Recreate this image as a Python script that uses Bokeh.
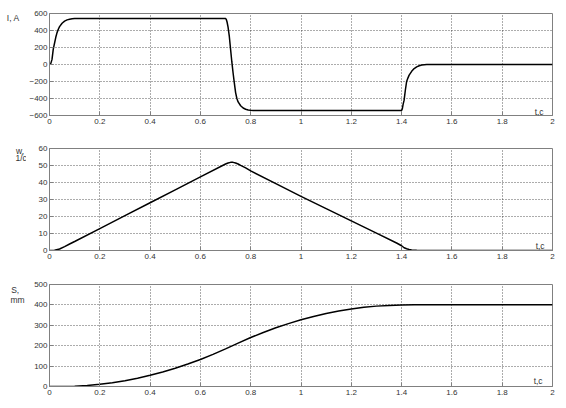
from bokeh.plotting import figure
from bokeh.layouts import column, row
from bokeh.models import Label, FixedTicker, Range1d
from bokeh.embed import file_html
from bokeh.resources import INLINE

# ---- data ----
t_I = [0, 0.005, 0.01, 0.015, 0.02, 0.025, 0.03, 0.035, 0.04, 0.05, 0.06, 0.07, 0.08, 0.09, 0.1,
       0.7, 0.703, 0.706, 0.71, 0.715, 0.72, 0.725, 0.73, 0.735, 0.74, 0.745, 0.75, 0.76, 0.77,
       0.78, 0.79, 0.8, 0.81,
       1.4, 1.403, 1.406, 1.41, 1.415, 1.42, 1.425, 1.43, 1.44, 1.45, 1.46, 1.47, 1.48, 1.49, 1.5, 2.0]
I_val = [0, 10, 60, 180, 250, 320, 375, 415, 445, 485, 510, 525, 533, 538, 540,
         540, 530, 500, 440, 330, 180, 30, -100, -220, -330, -400, -440, -485, -512,
         -526, -535, -539, -540,
         -540, -520, -470, -420, -300, -200, -160, -125, -80, -48, -28, -15, -7, -2, 0, 0]

t_w = [0, 0.02, 0.04, 0.06, 0.08, 0.1, 0.2, 0.3, 0.4, 0.5, 0.6, 0.7, 0.71, 0.72, 0.73, 0.74,
       0.75, 0.76, 0.78, 0.8, 0.9, 1.0, 1.1, 1.2, 1.3, 1.38, 1.4, 1.41, 1.42, 1.43, 1.44, 1.46, 1.5, 2.0]
w_val = [0, 0.1, 0.9, 2.3, 3.8, 5.3, 12.9, 20.5, 28.1, 35.7, 43.3, 50.9, 51.5, 51.85, 51.85, 51.5,
         50.9, 50.1, 48.6, 46.8, 39.3, 31.8, 24.6, 17.4, 10.2, 4.4, 2.8, 1.6, 1.0, 0.6, 0.35, 0.1, 0, 0]

t_S = [0, 0.05, 0.1, 0.15, 0.2, 0.25, 0.3, 0.35, 0.4, 0.45, 0.5, 0.55, 0.6, 0.65, 0.7, 0.75,
       0.8, 0.85, 0.9, 0.95, 1.0, 1.05, 1.1, 1.15, 1.2, 1.25, 1.3, 1.35, 1.4, 1.45, 1.5, 2.0]
S_val = [0, 0.05, 1.5, 5.1, 10.8, 18.7, 28.6, 40.7, 54.8, 71.1, 89.5, 110, 132.6, 157.4, 184.3, 212.5,
         240, 264.8, 288, 308.2, 327, 343.3, 358, 369.8, 380, 388, 394, 397.6, 399.6, 400.3, 400.5, 400.5]

x_ticks = [0, 0.2, 0.4, 0.6, 0.8, 1.0, 1.2, 1.4, 1.6, 1.8, 2.0]
x_tick_labels = ["0", "0.2", "0.4", "0.6", "0.8", "1", "1.2", "1.4", "1.6", "1.8", "2"]
I_ticks = [-600, -400, -200, 0, 200, 400, 600]
w_ticks = [0, 10, 20, 30, 40, 50, 60]
S_ticks = [0, 100, 200, 300, 400, 500]

FONT = "Liberation Sans"
GRAY = "#808080"
TXT = "#333333"
LABEL_W = 26
MAIN_W = 531


def make_fig(height, top, bottom, yr, yticks):
    p = figure(width=MAIN_W, height=height, x_range=Range1d(0, 2), y_range=Range1d(*yr),
               output_backend="svg", toolbar_location=None,
               min_border_left=20, min_border_right=5, min_border_top=top, min_border_bottom=bottom)
    p.xaxis.ticker = FixedTicker(ticks=x_ticks)
    p.xaxis.major_label_overrides = {t: l for t, l in zip(x_ticks, x_tick_labels)}
    p.yaxis.ticker = FixedTicker(ticks=yticks)
    for ax in (p.xaxis, p.yaxis):
        ax.axis_line_color = GRAY
        ax.major_tick_line_color = GRAY
        ax.major_tick_in = 4
        ax.major_tick_out = 0
        ax.minor_tick_line_color = None
        ax.major_label_text_font = FONT
        ax.major_label_text_font_size = "8px"
        ax.major_label_text_color = TXT
    p.xaxis.major_label_standoff = 3
    p.yaxis.major_label_standoff = 2
    p.grid.grid_line_color = "#222222"
    p.grid.grid_line_dash = "1 2"
    p.grid.grid_line_width = 1
    p.grid.grid_line_alpha = 0.75
    p.outline_line_color = GRAY
    p.outline_line_alpha = 1
    return p


def add_label(p, x, y, text):
    p.add_layout(Label(x=x, y=y, text=text, text_font=FONT, text_font_size="8.5px",
                       text_color=TXT, text_baseline="alphabetic", text_align="left"))


p1 = make_fig(142, 13, 27, (-600, 600), I_ticks)
p1.line(t_I, I_val, line_color="black", line_width=1.5)
add_label(p1, 1.929, -556, "t,c")

p2 = make_fig(135, 6, 27, (0, 60), w_ticks)
p2.line(t_w, w_val, line_color="black", line_width=1.5)
add_label(p2, 1.933, 2.6, "t,c")

p3 = make_fig(127, 7, 18, (0, 500), S_ticks)
p3.line(t_S, S_val, line_color="black", line_width=1.5)
add_label(p3, 1.925, 26, "t,c")

total_h = 142 + 135 + 127
lab = figure(width=LABEL_W, height=total_h, x_range=Range1d(0, LABEL_W), y_range=Range1d(total_h, 0),
             output_backend="svg", toolbar_location=None, x_axis_type=None, y_axis_type=None,
             min_border=0)
lab.grid.visible = False
lab.outline_line_color = None
add_label(lab, 6.3, 17.3, "I, A")
add_label(lab, 15.5, 150.7, "w,")
add_label(lab, 15.0, 157.5, "1/c")
add_label(lab, 10.7, 289.0, "S,")
add_label(lab, 10.0, 299.0, "mm")

layout = row(lab, column(p1, p2, p3, spacing=0), spacing=0)
open("out.html", "w").write(file_html(layout, INLINE))
